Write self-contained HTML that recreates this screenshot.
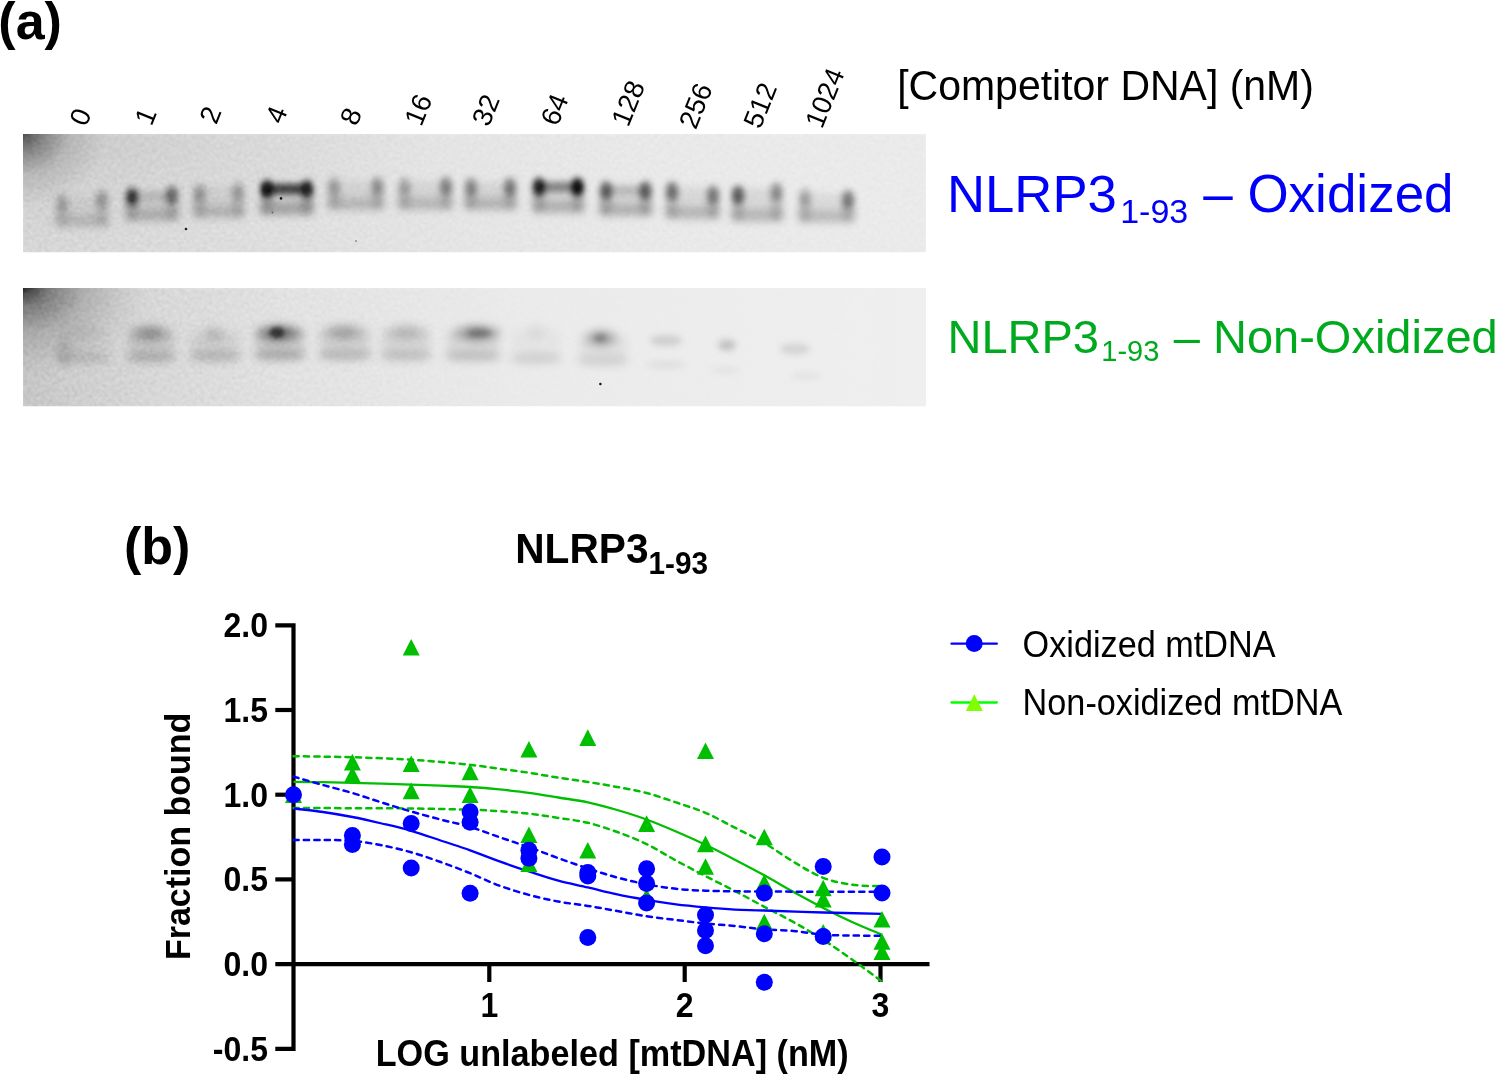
<!DOCTYPE html>
<html lang="en"><head><meta charset="utf-8"><title>NLRP3 1-93 competition EMSA</title>
<style>
html,body{margin:0;padding:0;background:#fff;}
body{width:1495px;height:1075px;overflow:hidden;}
svg{display:block;}
text{font-family:"Liberation Sans",Arial,Helvetica,sans-serif;}
.b{font-weight:bold;}
</style></head><body>
<svg width="1495" height="1075" viewBox="0 0 1495 1075">
<defs>
<filter id="b2" x="-50%" y="-50%" width="200%" height="200%"><feGaussianBlur stdDeviation="2"/></filter>
<filter id="b3" x="-50%" y="-50%" width="200%" height="200%"><feGaussianBlur stdDeviation="3"/></filter>
<filter id="b4" x="-50%" y="-50%" width="200%" height="200%"><feGaussianBlur stdDeviation="3.6"/></filter>
<filter id="b5" x="-50%" y="-50%" width="200%" height="200%"><feGaussianBlur stdDeviation="4.2"/></filter>
<filter id="b05" x="-100%" y="-100%" width="300%" height="300%"><feGaussianBlur stdDeviation="0.5"/></filter>
<filter id="grain" x="0" y="0" width="100%" height="100%">
<feTurbulence type="fractalNoise" baseFrequency="0.4" numOctaves="2" seed="7" result="n"/>
<feColorMatrix type="matrix" values="0 0 0 0 0  0 0 0 0 0  0 0 0 0 0  1.2 0 0 -0.5 0"/>
<feGaussianBlur stdDeviation="0.9"/>
</filter>
<filter id="grainW" x="0" y="0" width="100%" height="100%">
<feTurbulence type="fractalNoise" baseFrequency="0.4" numOctaves="2" seed="23" result="n"/>
<feColorMatrix type="matrix" values="0 0 0 0 1  0 0 0 0 1  0 0 0 0 1  0 1.2 0 -0.5 0"/>
<feGaussianBlur stdDeviation="0.9"/>
</filter>
<linearGradient id="g1bg" x1="0" y1="0" x2="1" y2="0">
<stop offset="0" stop-color="#e5e5e5"/><stop offset="0.15" stop-color="#e8e8e8"/><stop offset="0.4" stop-color="#ececec"/><stop offset="0.7" stop-color="#f0f0f0"/><stop offset="1" stop-color="#f1f1f1"/>
</linearGradient>
<linearGradient id="g2bg" x1="0" y1="0" x2="1" y2="0">
<stop offset="0" stop-color="#d4d4d4"/><stop offset="0.06" stop-color="#dddddd"/><stop offset="0.15" stop-color="#e6e6e6"/><stop offset="0.3" stop-color="#ededed"/><stop offset="1" stop-color="#efefef"/>
</linearGradient>
<linearGradient id="vshade" x1="0" y1="0" x2="0" y2="1">
<stop offset="0" stop-color="#000" stop-opacity="0.10"/><stop offset="0.5" stop-color="#000" stop-opacity="0.03"/><stop offset="1" stop-color="#000" stop-opacity="0"/>
</linearGradient>
<radialGradient id="corner1" cx="0" cy="0" r="1" gradientUnits="objectBoundingBox">
<stop offset="0" stop-color="#000" stop-opacity="0.68"/><stop offset="0.25" stop-color="#000" stop-opacity="0.38"/><stop offset="0.55" stop-color="#000" stop-opacity="0.12"/><stop offset="1" stop-color="#000" stop-opacity="0"/>
</radialGradient>
<radialGradient id="corner2" cx="0" cy="0" r="1" gradientUnits="objectBoundingBox">
<stop offset="0" stop-color="#000" stop-opacity="0.88"/><stop offset="0.2" stop-color="#000" stop-opacity="0.45"/><stop offset="0.5" stop-color="#000" stop-opacity="0.17"/><stop offset="0.8" stop-color="#000" stop-opacity="0.05"/><stop offset="1" stop-color="#000" stop-opacity="0"/>
</radialGradient>
<linearGradient id="m1g" x1="0" y1="0" x2="1" y2="0"><stop offset="0" stop-color="#fff"/><stop offset="0.5" stop-color="#777"/><stop offset="1" stop-color="#555"/></linearGradient>
<linearGradient id="m2g" x1="0" y1="0" x2="1" y2="0"><stop offset="0" stop-color="#fff"/><stop offset="0.3" stop-color="#888"/><stop offset="0.55" stop-color="#222"/><stop offset="1" stop-color="#000"/></linearGradient>
<mask id="m1"><rect x="23" y="134" width="903" height="118.5" fill="url(#m1g)"/></mask>
<mask id="m2"><rect x="23" y="288" width="903" height="118.5" fill="url(#m2g)"/></mask>
<radialGradient id="tl1" cx="0" cy="0" r="1"><stop offset="0" stop-color="#000" stop-opacity="0.08"/><stop offset="0.5" stop-color="#000" stop-opacity="0.03"/><stop offset="1" stop-color="#000" stop-opacity="0"/></radialGradient>
<clipPath id="c1"><rect x="23" y="134" width="903" height="118.5"/></clipPath>
<clipPath id="c2"><rect x="23" y="288" width="903" height="118.5"/></clipPath>
</defs>
<rect width="1495" height="1075" fill="#fff"/>

<text class="b" x="-1.7" y="38.9" font-size="52">(a)</text>
<text class="b" x="124" y="563.9" font-size="52">(b)</text>
<text transform="translate(86.3,127.5) rotate(-68)" font-size="27.5">0</text>
<text transform="translate(151.5,127) rotate(-68)" font-size="27.5">1</text>
<text transform="translate(216.2,125.4) rotate(-68)" font-size="27.5">2</text>
<text transform="translate(282.2,125.2) rotate(-68)" font-size="27.5">4</text>
<text transform="translate(356.8,127) rotate(-68)" font-size="27.5">8</text>
<text transform="translate(421.2,127.5) rotate(-68)" font-size="27.5">16</text>
<text transform="translate(488.7,127.7) rotate(-68)" font-size="27.5">32</text>
<text transform="translate(557.5,127.3) rotate(-68)" font-size="27.5">64</text>
<text transform="translate(628.3,128) rotate(-68)" font-size="27.5">128</text>
<text transform="translate(695.8,130.5) rotate(-68)" font-size="27.5">256</text>
<text transform="translate(760.3,130.1) rotate(-68)" font-size="27.5">512</text>
<text transform="translate(822,129.8) rotate(-68)" font-size="27.5">1024</text>
<text transform="translate(897.2,99.9) scale(1,1.05)" font-size="41">[Competitor DNA] (nM)</text>
<g clip-path="url(#c1)">
<rect x="23" y="134" width="903" height="118.5" fill="url(#g1bg)"/>
<rect x="23" y="134" width="420" height="110" fill="url(#tl1)"/>
<rect x="23" y="134" width="84" height="74" fill="url(#corner1)"/>
<g filter="url(#b4)">
<rect x="56" y="196" width="52" height="30" rx="3" opacity="0.059"/>
<ellipse cx="62" cy="213.0" rx="6.5" ry="13.0" opacity="0.119"/>
<ellipse cx="102" cy="211.0" rx="6.5" ry="15.0" opacity="0.119"/>
<rect x="126" y="191" width="52" height="29" rx="3" opacity="0.077"/>
<ellipse cx="132" cy="207.0" rx="6.5" ry="13.0" opacity="0.154"/>
<ellipse cx="172" cy="206.0" rx="6.5" ry="14.0" opacity="0.154"/>
<rect x="193.5" y="187" width="50.5" height="30" rx="3" opacity="0.070"/>
<ellipse cx="199.5" cy="203.5" rx="6.5" ry="13.5" opacity="0.140"/>
<ellipse cx="238" cy="202.5" rx="6.5" ry="14.5" opacity="0.140"/>
<rect x="261" y="184" width="52" height="30" rx="3" opacity="0.098"/>
<ellipse cx="267" cy="200.0" rx="6.5" ry="14.0" opacity="0.196"/>
<ellipse cx="307" cy="200.0" rx="6.5" ry="14.0" opacity="0.196"/>
<rect x="328" y="181" width="55.5" height="28" rx="3" opacity="0.070"/>
<ellipse cx="334" cy="196.0" rx="6.5" ry="13.0" opacity="0.140"/>
<ellipse cx="377.5" cy="196.0" rx="6.5" ry="13.0" opacity="0.140"/>
<rect x="398.5" y="181" width="53.5" height="28" rx="3" opacity="0.070"/>
<ellipse cx="404.5" cy="196.0" rx="6.5" ry="13.0" opacity="0.140"/>
<ellipse cx="446" cy="196.0" rx="6.5" ry="13.0" opacity="0.140"/>
<rect x="465" y="182" width="51" height="27" rx="3" opacity="0.077"/>
<ellipse cx="471" cy="196.5" rx="6.5" ry="12.5" opacity="0.154"/>
<ellipse cx="510" cy="196.5" rx="6.5" ry="12.5" opacity="0.154"/>
<rect x="533" y="182" width="50.5" height="30" rx="3" opacity="0.084"/>
<ellipse cx="539" cy="198.0" rx="6.5" ry="14.0" opacity="0.168"/>
<ellipse cx="577.5" cy="198.0" rx="6.5" ry="14.0" opacity="0.168"/>
<rect x="600" y="185.5" width="51.5" height="29.5" rx="3" opacity="0.084"/>
<ellipse cx="606" cy="201.25" rx="6.5" ry="13.75" opacity="0.168"/>
<ellipse cx="645.5" cy="201.25" rx="6.5" ry="13.75" opacity="0.168"/>
<rect x="666" y="187" width="53" height="31" rx="3" opacity="0.077"/>
<ellipse cx="672" cy="203.0" rx="6.5" ry="15.0" opacity="0.154"/>
<ellipse cx="713" cy="205.0" rx="6.5" ry="13.0" opacity="0.154"/>
<rect x="732" y="188" width="50.5" height="32.5" rx="3" opacity="0.077"/>
<ellipse cx="738" cy="206.25" rx="6.5" ry="14.25" opacity="0.154"/>
<ellipse cx="776.5" cy="204.5" rx="6.5" ry="16.0" opacity="0.154"/>
<rect x="799" y="193" width="55" height="28.5" rx="3" opacity="0.070"/>
<ellipse cx="805" cy="207.75" rx="6.5" ry="13.75" opacity="0.140"/>
<ellipse cx="848" cy="209.0" rx="6.5" ry="12.5" opacity="0.140"/>
</g>
<g filter="url(#b5)">
<rect x="55" y="215" width="54" height="12" rx="3" opacity="0.136"/>
<rect x="125" y="209" width="54" height="12" rx="3" opacity="0.176"/>
<rect x="192.5" y="206" width="52.5" height="12" rx="3" opacity="0.160"/>
<rect x="260" y="203" width="54" height="12" rx="3" opacity="0.224"/>
<rect x="327" y="198" width="57.5" height="12" rx="3" opacity="0.160"/>
<rect x="397.5" y="198" width="55.5" height="12" rx="3" opacity="0.160"/>
<rect x="464" y="198" width="53" height="12" rx="3" opacity="0.176"/>
<rect x="532" y="201" width="52.5" height="12" rx="3" opacity="0.192"/>
<rect x="599" y="204" width="53.5" height="12" rx="3" opacity="0.192"/>
<rect x="665" y="207" width="55" height="12" rx="3" opacity="0.176"/>
<rect x="731" y="209.5" width="52.5" height="12" rx="3" opacity="0.176"/>
<rect x="798" y="210.5" width="57" height="12" rx="3" opacity="0.160"/>
</g>
<g filter="url(#b3)">
<ellipse cx="62" cy="203" rx="6" ry="9.5" opacity="0.200"/>
<ellipse cx="102" cy="199" rx="6" ry="9.5" opacity="0.260"/>
<ellipse cx="132" cy="197" rx="6" ry="9.5" opacity="0.750"/>
<ellipse cx="172" cy="195" rx="6" ry="9.5" opacity="0.500"/>
<rect x="132" y="191" width="40" height="10" rx="3" opacity="0.100"/>
<ellipse cx="199.5" cy="193" rx="6" ry="9.5" opacity="0.250"/>
<ellipse cx="238" cy="191" rx="6" ry="9.5" opacity="0.220"/>
<ellipse cx="267" cy="189" rx="6" ry="9.5" opacity="0.900"/>
<ellipse cx="307" cy="189" rx="6" ry="9.5" opacity="0.800"/>
<rect x="267" y="184" width="40" height="10" rx="3" opacity="0.780"/>
<ellipse cx="334" cy="186" rx="6" ry="9.5" opacity="0.220"/>
<ellipse cx="377.5" cy="186" rx="6" ry="9.5" opacity="0.300"/>
<ellipse cx="404.5" cy="186" rx="6" ry="9.5" opacity="0.200"/>
<ellipse cx="446" cy="186" rx="6" ry="9.5" opacity="0.380"/>
<ellipse cx="471" cy="187" rx="6" ry="9.5" opacity="0.350"/>
<ellipse cx="510" cy="187" rx="6" ry="9.5" opacity="0.420"/>
<ellipse cx="539" cy="187" rx="6" ry="9.5" opacity="0.850"/>
<ellipse cx="577.5" cy="187" rx="6" ry="9.5" opacity="0.950"/>
<rect x="539" y="182" width="38.5" height="10" rx="3" opacity="0.420"/>
<ellipse cx="606" cy="190.5" rx="6" ry="9.5" opacity="0.550"/>
<ellipse cx="645.5" cy="190.5" rx="6" ry="9.5" opacity="0.550"/>
<rect x="606" y="185.5" width="39.5" height="10" rx="3" opacity="0.150"/>
<ellipse cx="672" cy="191" rx="6" ry="9.5" opacity="0.480"/>
<ellipse cx="713" cy="195" rx="6" ry="9.5" opacity="0.420"/>
<ellipse cx="738" cy="195" rx="6" ry="9.5" opacity="0.580"/>
<ellipse cx="776.5" cy="191.5" rx="6" ry="9.5" opacity="0.320"/>
<ellipse cx="805" cy="197" rx="6" ry="9.5" opacity="0.200"/>
<ellipse cx="848" cy="199.5" rx="6" ry="9.5" opacity="0.420"/>
</g>
<g filter="url(#b2)">
<ellipse cx="132" cy="197" rx="3" ry="4.5" opacity="0.450"/>
<ellipse cx="266.5" cy="189.5" rx="4.5" ry="5.5" opacity="0.800"/>
<ellipse cx="307.5" cy="189" rx="3.5" ry="4.5" opacity="0.600"/>
<ellipse cx="577.5" cy="187.5" rx="4" ry="5" opacity="0.700"/>
<ellipse cx="539" cy="187" rx="3.5" ry="4.5" opacity="0.400"/>
</g>
<g filter="url(#b05)"><circle cx="186" cy="229" r="1.35" opacity="0.95"/><circle cx="281" cy="198.4" r="1.3" opacity="0.95"/><circle cx="272.4" cy="212.5" r="0.9" opacity="0.5"/><circle cx="356" cy="241" r="1.0" opacity="0.4"/></g>
<g mask="url(#m1)"><rect x="23" y="134" width="903" height="118.5" filter="url(#grain)" opacity="0.25"/><rect x="23" y="134" width="903" height="118.5" filter="url(#grainW)" opacity="0.3"/></g>
</g>
<g clip-path="url(#c2)">
<rect x="23" y="288" width="903" height="118.5" fill="url(#g2bg)"/>
<rect x="23" y="288" width="125" height="90" fill="url(#corner2)"/>
<g filter="url(#b5)">
<rect x="58.0" y="331" width="52" height="29" rx="3" opacity="0.023"/>
<ellipse cx="84" cy="333" rx="23.52" ry="8" opacity="0.025"/>
<ellipse cx="84" cy="333" rx="12.936" ry="6.5" opacity="0.028"/>
<ellipse cx="84" cy="358" rx="28.0" ry="5.5" opacity="0.128"/>
<rect x="128.0" y="331" width="46" height="28.5" rx="3" opacity="0.099"/>
<ellipse cx="150" cy="333" rx="21.0" ry="8" opacity="0.180"/>
<ellipse cx="150" cy="333" rx="11.55" ry="6.5" opacity="0.198"/>
<ellipse cx="151" cy="357.5" rx="25.0" ry="5.5" opacity="0.176"/>
<rect x="191.0" y="332" width="48" height="26.5" rx="3" opacity="0.072"/>
<ellipse cx="214" cy="334" rx="12" ry="8" opacity="0.080"/>
<ellipse cx="214" cy="334" rx="6.6000000000000005" ry="6.5" opacity="0.088"/>
<ellipse cx="215" cy="356.5" rx="26.0" ry="5.5" opacity="0.176"/>
<rect x="256.0" y="331" width="48" height="26.5" rx="3" opacity="0.117"/>
<ellipse cx="279" cy="333" rx="24" ry="8" opacity="0.310"/>
<ellipse cx="279" cy="333" rx="13.200000000000001" ry="6.5" opacity="0.341"/>
<ellipse cx="280" cy="355.5" rx="26.0" ry="5.5" opacity="0.208"/>
<rect x="320.0" y="330" width="50" height="27.5" rx="3" opacity="0.090"/>
<ellipse cx="344" cy="332" rx="22.68" ry="8" opacity="0.135"/>
<ellipse cx="344" cy="332" rx="12.474" ry="6.5" opacity="0.149"/>
<ellipse cx="345" cy="355.5" rx="27.0" ry="5.5" opacity="0.160"/>
<rect x="382.0" y="330" width="48" height="28" rx="3" opacity="0.077"/>
<ellipse cx="406" cy="332" rx="21.84" ry="8" opacity="0.085"/>
<ellipse cx="406" cy="332" rx="12.012" ry="6.5" opacity="0.094"/>
<ellipse cx="406" cy="356" rx="26.0" ry="5.5" opacity="0.136"/>
<rect x="447.0" y="331" width="52" height="27.5" rx="3" opacity="0.077"/>
<ellipse cx="477" cy="333" rx="24" ry="8" opacity="0.210"/>
<ellipse cx="477" cy="333" rx="13.200000000000001" ry="6.5" opacity="0.231"/>
<ellipse cx="473" cy="356.5" rx="28.0" ry="5.5" opacity="0.136"/>
<rect x="512.0" y="330" width="48" height="30.5" rx="3" opacity="0.027"/>
<ellipse cx="536" cy="332" rx="12" ry="8" opacity="0.030"/>
<ellipse cx="536" cy="332" rx="6.6000000000000005" ry="6.5" opacity="0.033"/>
<ellipse cx="536" cy="358.5" rx="26.0" ry="5.5" opacity="0.104"/>
<rect x="579.0" y="336" width="48" height="27" rx="3" opacity="0.050"/>
<ellipse cx="601" cy="338" rx="17" ry="8" opacity="0.180"/>
<ellipse cx="601" cy="338" rx="9.350000000000001" ry="6.5" opacity="0.198"/>
<ellipse cx="603" cy="361" rx="26.0" ry="5.5" opacity="0.088"/>
</g>
<g filter="url(#b4)">
<ellipse cx="64" cy="352" rx="8" ry="14" opacity="0.100"/>
</g>
<g filter="url(#b2)">
<ellipse cx="277" cy="332.5" rx="7" ry="5.5" opacity="0.650"/>
<ellipse cx="480" cy="333" rx="12" ry="4" opacity="0.180"/>
<ellipse cx="600" cy="338" rx="6" ry="4" opacity="0.150"/>
</g>
<g filter="url(#b3)">
<ellipse cx="666" cy="340.5" rx="16" ry="5.5" opacity="0.126"/>
<ellipse cx="666" cy="364.5" rx="20.0" ry="3.2" opacity="0.070"/>
<ellipse cx="727" cy="345" rx="9" ry="5.5" opacity="0.180"/>
<ellipse cx="725" cy="370" rx="15.0" ry="3.2" opacity="0.045"/>
<ellipse cx="795" cy="349" rx="15" ry="5.5" opacity="0.108"/>
<ellipse cx="806" cy="376" rx="15.0" ry="3.2" opacity="0.050"/>
</g>
<g filter="url(#b05)"><circle cx="600.4" cy="384" r="1.25" opacity="0.95"/></g>
<g mask="url(#m2)"><rect x="23" y="288" width="903" height="118.5" filter="url(#grain)" opacity="0.3"/><rect x="23" y="288" width="903" height="118.5" filter="url(#grainW)" opacity="0.35"/></g>
</g>
<text x="947" y="211.5" font-size="52.7" fill="#0000fa">NLRP3<tspan font-size="34" x="1120.2" dy="11.6">1-93</tspan><tspan font-size="53" x="1203.2" dy="-11.6">– Oxidized</tspan></text>
<text x="947.5" y="352.6" font-size="47" fill="#00aa1e">NLRP3<tspan font-size="29" x="1101.3" dy="8.8">1-93</tspan><tspan x="1173.8" dy="-8.8">– Non-Oxidized</tspan></text>
<text class="b" transform="translate(515.2,562.5) scale(0.992,1.055)" font-size="41">NLRP3<tspan font-size="30" dy="10.9">1-93</tspan></text>
<g stroke="#000" stroke-width="4.2" fill="none">
<path d="M275.3,625.3 H293.5 V1048.8 H275.3"/>
<path d="M275.3,964.1 H929.5"/>
<path d="M275.3,710.0 H293.5"/>
<path d="M275.3,794.7 H293.5"/>
<path d="M275.3,879.4 H293.5"/>
<path d="M489.3,964.1 V982"/>
<path d="M684.7,964.1 V982"/>
<path d="M880.5,964.1 V982"/>
</g>
<path d="M293.5,756.2 C298.4,756.3 313.1,756.4 322.9,756.6 C332.7,756.8 342.5,756.9 352.4,757.2 C362.2,757.5 372.0,757.9 381.8,758.3 C391.6,758.7 401.4,759.1 411.2,759.7 C421.0,760.3 430.8,761.1 440.6,762.0 C450.4,762.9 460.2,763.7 470.1,764.8 C479.9,765.9 489.7,767.5 499.5,768.8 C509.3,770.1 519.1,771.2 528.9,772.7 C538.7,774.2 548.5,776.2 558.3,777.7 C568.1,779.2 577.9,780.5 587.8,782.0 C597.6,783.5 607.4,785.2 617.2,787.0 C627.0,788.8 636.8,790.4 646.6,793.0 C656.4,795.6 666.2,799.1 676.0,802.4 C685.8,805.7 695.6,808.6 705.5,812.8 C715.3,817.0 725.1,822.7 734.9,827.7 C744.7,832.7 754.5,837.3 764.3,843.0 C774.1,848.7 783.9,856.1 793.7,861.9 C803.5,867.7 813.4,874.0 823.2,877.8 C833.0,881.6 842.8,883.4 852.6,884.8 C862.4,886.2 877.1,886.0 882.0,886.2" fill="none" stroke="#00be00" stroke-width="2.5" stroke-dasharray="5.2 5.2" stroke-linecap="round"/>
<path d="M293.5,808.0 C303.3,808.0 332.7,808.1 352.4,808.2 C372.0,808.3 391.6,808.2 411.2,808.5 C430.8,808.8 455.3,809.2 470.1,809.7 C484.8,810.2 489.7,810.5 499.5,811.2 C509.3,811.9 519.1,812.6 528.9,813.7 C538.7,814.8 548.5,816.4 558.3,817.9 C568.1,819.4 577.9,820.4 587.8,822.8 C597.6,825.1 607.4,828.5 617.2,832.0 C627.0,835.5 636.8,839.4 646.6,844.1 C656.4,848.9 666.2,855.2 676.0,860.5 C685.8,865.8 695.6,871.0 705.5,876.1 C715.3,881.2 725.1,885.9 734.9,891.0 C744.7,896.1 754.5,901.6 764.3,906.8 C774.1,912.0 783.9,916.7 793.7,922.2 C803.5,927.7 813.4,933.5 823.2,939.8 C833.0,946.1 842.8,952.9 852.6,959.9 C862.4,966.9 877.1,978.0 882.0,981.6" fill="none" stroke="#00be00" stroke-width="2.5" stroke-dasharray="5.2 5.2" stroke-linecap="round"/>
<path d="M293.5,781.8 C298.4,781.9 313.1,782.0 322.9,782.2 C332.7,782.4 342.5,782.6 352.4,782.8 C362.2,783.0 372.0,783.3 381.8,783.6 C391.6,783.9 401.4,784.2 411.2,784.6 C421.0,785.0 430.8,785.3 440.6,785.7 C450.4,786.1 460.2,786.4 470.1,787.0 C479.9,787.6 489.7,788.4 499.5,789.4 C509.3,790.4 519.1,791.4 528.9,792.8 C538.7,794.1 548.5,795.9 558.3,797.5 C568.1,799.1 577.9,800.2 587.8,802.3 C597.6,804.4 607.4,807.1 617.2,810.0 C627.0,812.9 636.8,815.9 646.6,819.5 C656.4,823.1 666.2,827.3 676.0,831.5 C685.8,835.7 695.6,840.1 705.5,844.8 C715.3,849.5 725.1,854.6 734.9,859.7 C744.7,864.8 754.5,869.9 764.3,875.3 C774.1,880.7 783.9,886.6 793.7,892.0 C803.5,897.4 813.4,902.9 823.2,907.9 C833.0,912.9 842.8,917.7 852.6,922.2 C862.4,926.7 877.1,932.6 882.0,934.7" fill="none" stroke="#00be00" stroke-width="2.3"/>
<path d="M293.5,776.6 C298.4,778.0 313.1,782.3 322.9,785.0 C332.7,787.7 342.5,790.1 352.4,793.0 C362.2,795.9 372.0,799.4 381.8,802.5 C391.6,805.6 401.4,808.7 411.2,811.5 C421.0,814.3 430.8,816.9 440.6,819.5 C450.4,822.1 460.2,824.0 470.1,827.0 C479.9,830.0 489.7,833.8 499.5,837.2 C509.3,840.6 519.1,843.7 528.9,847.2 C538.7,850.7 548.5,854.6 558.3,858.1 C568.1,861.6 577.9,865.2 587.8,868.4 C597.6,871.6 607.4,874.9 617.2,877.5 C627.0,880.1 636.8,882.4 646.6,884.3 C656.4,886.2 666.2,887.7 676.0,888.8 C685.8,889.9 695.6,890.3 705.5,890.7 C715.3,891.1 725.1,891.2 734.9,891.3 C744.7,891.4 749.6,891.4 764.3,891.5 C779.0,891.6 803.5,891.7 823.2,891.7 C842.8,891.7 872.2,891.7 882.0,891.7" fill="none" stroke="#0000ff" stroke-width="2.5" stroke-dasharray="5.2 5.2" stroke-linecap="round"/>
<path d="M293.5,840.0 C298.4,840.0 313.1,839.9 322.9,840.0 C332.7,840.1 342.5,839.9 352.4,840.8 C362.2,841.7 372.0,843.4 381.8,845.3 C391.6,847.2 401.4,849.5 411.2,852.3 C421.0,855.1 430.8,858.5 440.6,862.0 C450.4,865.5 460.2,869.2 470.1,873.2 C479.9,877.2 489.7,882.1 499.5,885.7 C509.3,889.3 519.1,892.2 528.9,894.9 C538.7,897.5 548.5,899.8 558.3,901.6 C568.1,903.4 577.9,904.3 587.8,905.9 C597.6,907.5 607.4,909.3 617.2,911.0 C627.0,912.7 636.8,914.8 646.6,916.3 C656.4,917.8 666.2,918.8 676.0,920.0 C685.8,921.2 695.6,922.5 705.5,923.5 C715.3,924.5 725.1,925.0 734.9,926.0 C744.7,927.0 754.5,928.5 764.3,929.3 C774.1,930.1 783.9,930.1 793.7,931.0 C803.5,931.9 813.4,934.0 823.2,934.7 C833.0,935.5 842.8,935.3 852.6,935.5 C862.4,935.7 877.1,935.8 882.0,935.9" fill="none" stroke="#0000ff" stroke-width="2.5" stroke-dasharray="5.2 5.2" stroke-linecap="round"/>
<path d="M293.5,808.5 C298.4,809.1 313.1,810.6 322.9,812.0 C332.7,813.4 342.5,815.1 352.4,817.0 C362.2,818.9 372.0,821.2 381.8,823.5 C391.6,825.8 401.4,828.0 411.2,830.8 C421.0,833.6 430.8,837.2 440.6,840.5 C450.4,843.8 460.2,846.8 470.1,850.3 C479.9,853.8 489.7,857.9 499.5,861.4 C509.3,864.9 519.1,868.3 528.9,871.5 C538.7,874.7 548.5,878.1 558.3,880.7 C568.1,883.4 577.9,885.1 587.8,887.4 C597.6,889.7 607.4,892.3 617.2,894.4 C627.0,896.5 636.8,898.2 646.6,899.9 C656.4,901.6 666.2,903.1 676.0,904.4 C685.8,905.6 695.6,906.5 705.5,907.4 C715.3,908.3 725.1,909.1 734.9,909.6 C744.7,910.1 749.6,910.0 764.3,910.5 C779.0,911.0 803.5,912.0 823.2,912.5 C842.8,913.0 872.2,913.6 882.0,913.8" fill="none" stroke="#0000ff" stroke-width="2.3"/>
<polygon points="293.5,786.3 285.0,802.9 302.0,802.9" fill="#00be00"/>
<polygon points="352.4,753.8 343.9,770.4 360.9,770.4" fill="#00be00"/>
<polygon points="352.4,766.3 343.9,782.9 360.9,782.9" fill="#00be00"/>
<polygon points="411.2,639.0 402.7,655.6 419.7,655.6" fill="#00be00"/>
<polygon points="411.2,755.4 402.7,772.0 419.7,772.0" fill="#00be00"/>
<polygon points="411.2,782.6 402.7,799.2 419.7,799.2" fill="#00be00"/>
<polygon points="470.1,763.6 461.6,780.2 478.6,780.2" fill="#00be00"/>
<polygon points="470.1,786.4 461.6,803.0 478.6,803.0" fill="#00be00"/>
<polygon points="528.9,740.9 520.4,757.5 537.4,757.5" fill="#00be00"/>
<polygon points="528.9,826.5 520.4,843.1 537.4,843.1" fill="#00be00"/>
<polygon points="528.9,855.3 520.4,871.9 537.4,871.9" fill="#00be00"/>
<polygon points="587.8,729.3 579.3,745.9 596.3,745.9" fill="#00be00"/>
<polygon points="587.8,841.9 579.3,858.5 596.3,858.5" fill="#00be00"/>
<polygon points="646.6,815.3 638.1,831.9 655.1,831.9" fill="#00be00"/>
<polygon points="646.6,888.2 638.1,904.8 655.1,904.8" fill="#00be00"/>
<polygon points="705.5,742.5 697.0,759.1 714.0,759.1" fill="#00be00"/>
<polygon points="705.5,835.6 697.0,852.2 714.0,852.2" fill="#00be00"/>
<polygon points="705.5,858.2 697.0,874.8 714.0,874.8" fill="#00be00"/>
<polygon points="764.3,828.7 755.8,845.3 772.8,845.3" fill="#00be00"/>
<polygon points="764.3,874.2 755.8,890.8 772.8,890.8" fill="#00be00"/>
<polygon points="764.3,913.7 755.8,930.3 772.8,930.3" fill="#00be00"/>
<polygon points="823.2,879.7 814.7,896.3 831.7,896.3" fill="#00be00"/>
<polygon points="823.2,891.0 814.7,907.6 831.7,907.6" fill="#00be00"/>
<polygon points="823.2,924.0 814.7,940.6 831.7,940.6" fill="#00be00"/>
<polygon points="882.0,911.0 873.5,927.6 890.5,927.6" fill="#00be00"/>
<polygon points="882.0,933.2 873.5,949.8 890.5,949.8" fill="#00be00"/>
<polygon points="882.0,943.5 873.5,960.1 890.5,960.1" fill="#00be00"/>
<circle cx="293.5" cy="794.7" r="8.5" fill="#0000ff"/>
<circle cx="352.4" cy="835.4" r="8.5" fill="#0000ff"/>
<circle cx="352.4" cy="844.4" r="8.5" fill="#0000ff"/>
<circle cx="411.2" cy="823.5" r="8.5" fill="#0000ff"/>
<circle cx="411.2" cy="868" r="8.5" fill="#0000ff"/>
<circle cx="470.1" cy="811.8" r="8.5" fill="#0000ff"/>
<circle cx="470.1" cy="822.2" r="8.5" fill="#0000ff"/>
<circle cx="470.1" cy="893.2" r="8.5" fill="#0000ff"/>
<circle cx="528.9" cy="850.3" r="8.5" fill="#0000ff"/>
<circle cx="528.9" cy="858.3" r="8.5" fill="#0000ff"/>
<circle cx="587.8" cy="872.6" r="8.5" fill="#0000ff"/>
<circle cx="587.8" cy="876" r="8.5" fill="#0000ff"/>
<circle cx="587.8" cy="937.5" r="8.5" fill="#0000ff"/>
<circle cx="646.6" cy="868.7" r="8.5" fill="#0000ff"/>
<circle cx="646.6" cy="883.4" r="8.5" fill="#0000ff"/>
<circle cx="646.6" cy="903.1" r="8.5" fill="#0000ff"/>
<circle cx="705.5" cy="914.9" r="8.5" fill="#0000ff"/>
<circle cx="705.5" cy="930.5" r="8.5" fill="#0000ff"/>
<circle cx="705.5" cy="945.8" r="8.5" fill="#0000ff"/>
<circle cx="764.3" cy="893" r="8.5" fill="#0000ff"/>
<circle cx="764.3" cy="933.8" r="8.5" fill="#0000ff"/>
<circle cx="764.3" cy="982.2" r="8.5" fill="#0000ff"/>
<circle cx="823.2" cy="866.6" r="8.5" fill="#0000ff"/>
<circle cx="823.2" cy="936.4" r="8.5" fill="#0000ff"/>
<circle cx="882.0" cy="856.9" r="8.5" fill="#0000ff"/>
<circle cx="882.0" cy="892.9" r="8.5" fill="#0000ff"/>
<text class="b" transform="translate(268,637.2) scale(1,1.09)" font-size="32" text-anchor="end">2.0</text>
<text class="b" transform="translate(268,721.9) scale(1,1.09)" font-size="32" text-anchor="end">1.5</text>
<text class="b" transform="translate(268,806.6) scale(1,1.09)" font-size="32" text-anchor="end">1.0</text>
<text class="b" transform="translate(268,891.3) scale(1,1.09)" font-size="32" text-anchor="end">0.5</text>
<text class="b" transform="translate(268,976.0) scale(1,1.09)" font-size="32" text-anchor="end">0.0</text>
<text class="b" transform="translate(268,1060.7) scale(1,1.09)" font-size="32" text-anchor="end">-0.5</text>
<text class="b" transform="translate(489.3,1017.2) scale(1,1.09)" font-size="32" text-anchor="middle">1</text>
<text class="b" transform="translate(684.7,1017.2) scale(1,1.09)" font-size="32" text-anchor="middle">2</text>
<text class="b" transform="translate(880.5,1017.2) scale(1,1.09)" font-size="32" text-anchor="middle">3</text>
<text class="b" transform="translate(612.2,1066.4) scale(1,1.09)" font-size="34.2" text-anchor="middle">LOG unlabeled [mtDNA] (nM)</text>
<text class="b" transform="translate(189.8,836.4) rotate(-90) scale(1,1.045)" font-size="34" text-anchor="middle">Fraction bound</text>
<path d="M951.5,643.7 H996.8" stroke="#0000ff" stroke-width="2.3" stroke-linecap="round"/><circle cx="974.2" cy="643.6" r="8.5" fill="#0000ff"/>
<path d="M951.5,702.5 H996.8" stroke="#00ff00" stroke-width="2.3" stroke-linecap="round"/><polygon points="974.3,694.3 965.8,710.9 982.8,710.9" fill="#80ff00"/>
<text transform="translate(1022.6,656.6) scale(1,1.07)" font-size="34.25">Oxidized mtDNA</text>
<text transform="translate(1022.6,714.9) scale(1,1.07)" font-size="34.25">Non-oxidized mtDNA</text>
</svg></body></html>
